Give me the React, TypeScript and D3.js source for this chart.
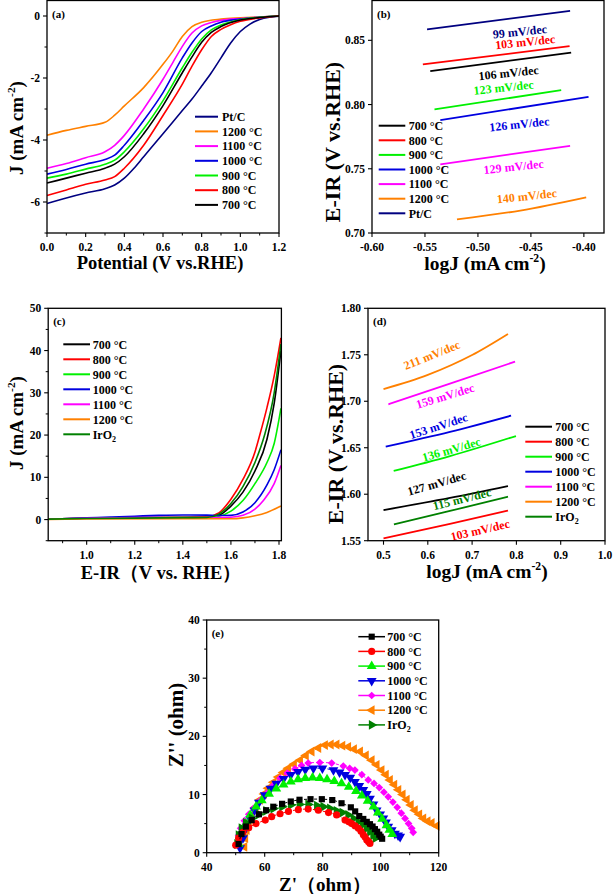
import React from "react";
import * as d3 from "d3";

const FONT = "'Liberation Serif','Times New Roman',Times,serif";
type Pt = [number, number];

// ---------------- (a) ORR polarization curves ----------------
const aNames = ["Pt/C", "1200 °C", "1100 °C", "1000 °C", "900 °C", "800 °C", "700 °C"];
const aColors = ["#000080", "#FF8000", "#FF00FF", "#0000E0", "#00F000", "#FF0000", "#000000"];
const aPtC: Pt[] = [[0, -6.05], [0.1, -5.87], [0.2, -5.71], [0.3, -5.57], [0.35, -5.45], [0.4, -5.23], [0.45, -4.91], [0.5, -4.54], [0.6, -3.8], [0.7, -3.05], [0.75, -2.68], [0.8, -2.26], [0.85, -1.83], [0.9, -1.35], [0.95, -0.87], [1.0, -0.5], [1.05, -0.26], [1.1, -0.11], [1.15, -0.04], [1.2, -0.01]];
const a1200: Pt[] = [[0, -3.85], [0.1, -3.69], [0.2, -3.56], [0.3, -3.43], [0.35, -3.2], [0.4, -2.9], [0.5, -2.31], [0.6, -1.56], [0.65, -1.14], [0.7, -0.66], [0.75, -0.34], [0.8, -0.2], [0.9, -0.1], [1.0, -0.06], [1.1, -0.03], [1.2, 0]];
const a1100: Pt[] = [[0, -4.91], [0.1, -4.76], [0.2, -4.57], [0.3, -4.38], [0.35, -4.17], [0.4, -3.85], [0.5, -3.0], [0.6, -2.04], [0.65, -1.51], [0.7, -0.98], [0.75, -0.55], [0.8, -0.32], [0.85, -0.21], [0.9, -0.14], [1.0, -0.08], [1.1, -0.03], [1.2, 0]];
const a1000: Pt[] = [[0, -5.1], [0.1, -4.95], [0.2, -4.78], [0.3, -4.63], [0.35, -4.49], [0.4, -4.17], [0.5, -3.37], [0.6, -2.47], [0.7, -1.35], [0.75, -0.87], [0.8, -0.5], [0.85, -0.32], [0.9, -0.2], [1.0, -0.1], [1.1, -0.04], [1.2, 0]];
const a900: Pt[] = [[0, -5.23], [0.1, -5.1], [0.2, -4.94], [0.3, -4.78], [0.35, -4.65], [0.4, -4.38], [0.5, -3.64], [0.6, -2.73], [0.7, -1.67], [0.75, -1.17], [0.8, -0.74], [0.85, -0.45], [0.9, -0.29], [1.0, -0.12], [1.1, -0.04], [1.2, 0]];
const a800: Pt[] = [[0, -5.79], [0.1, -5.61], [0.2, -5.43], [0.3, -5.29], [0.35, -5.18], [0.4, -4.91], [0.5, -4.17], [0.6, -3.21], [0.7, -2.2], [0.75, -1.62], [0.8, -1.09], [0.85, -0.66], [0.9, -0.43], [0.95, -0.28], [1.0, -0.17], [1.1, -0.06], [1.2, 0]];
const a700: Pt[] = [[0, -5.39], [0.1, -5.23], [0.2, -5.07], [0.3, -4.91], [0.35, -4.78], [0.4, -4.54], [0.5, -3.8], [0.6, -2.89], [0.7, -1.83], [0.75, -1.32], [0.8, -0.85], [0.85, -0.53], [0.9, -0.34], [1.0, -0.13], [1.1, -0.05], [1.2, 0]];
const aCurves = [aPtC, a1200, a1100, a1000, a900, a800, a700];
const aXTicks = [0, 0.2, 0.4, 0.6, 0.8, 1.0, 1.2];
const aXMinor = [0.1, 0.3, 0.5, 0.7, 0.9, 1.1];
const aYTicks = [0, -2, -4, -6];
const aYMinor = [-1, -3, -5, -7];

// ---------------- (b) ORR Tafel ----------------
const bNames = ["700 °C", "800 °C", "900 °C", "1000 °C", "1100 °C", "1200 °C", "Pt/C"];
const bColors = ["#000000", "#FF0000", "#00F000", "#0000E0", "#FF00FF", "#FF8000", "#000080"];
const b700: Pt[] = [[-0.545, 0.826], [-0.412, 0.8405]];
const b800: Pt[] = [[-0.552, 0.8312], [-0.4135, 0.8454]];
const b900: Pt[] = [[-0.541, 0.7962], [-0.4214, 0.8112]];
const b1000: Pt[] = [[-0.5355, 0.7879], [-0.3956, 0.806]];
const b1100: Pt[] = [[-0.5355, 0.7534], [-0.413, 0.7679]];
const b1200: Pt[] = [[-0.5198, 0.7106], [-0.46, 0.7175], [-0.3978, 0.7278]];
const bPtC: Pt[] = [[-0.548, 0.8586], [-0.413, 0.8729]];
const bLines = [b700, b800, b900, b1000, b1100, b1200, bPtC];
const bSlopes = ["106 mV/dec", "103 mV/dec", "123 mV/dec", "126 mV/dec", "129 mV/dec", "140 mV/dec", "99 mV/dec"];
const bSlopeX = [-0.471, -0.4554, -0.4758, -0.461, -0.4663, -0.4538, -0.4604];
const bSlopeY = [0.8247, 0.8488, 0.8133, 0.7848, 0.7516, 0.7288, 0.8568];
const bXTicks = [-0.6, -0.55, -0.5, -0.45, -0.4];
const bYTicks = [0.7, 0.75, 0.8, 0.85];

// ---------------- (c) OER polarization ----------------
const cNames = ["700 °C", "800 °C", "900 °C", "1000 °C", "1100 °C", "1200 °C", "IrO2"];
const cColors = ["#000000", "#FF0000", "#00F000", "#0000E0", "#FF00FF", "#FF8000", "#008000"];
const c700: Pt[] = [[0.842, 0.1], [1.0, 0.3], [1.2, 0.45], [1.4, 0.5], [1.5, 0.55], [1.55, 1.0], [1.6, 3.2], [1.65, 6.5], [1.7, 11.5], [1.75, 19], [1.78, 27.5], [1.808, 40]];
const c800: Pt[] = [[0.842, 0.1], [1.0, 0.3], [1.2, 0.45], [1.4, 0.55], [1.5, 0.7], [1.55, 1.6], [1.6, 4.8], [1.65, 9.5], [1.7, 16], [1.72, 20], [1.75, 26.5], [1.78, 34], [1.808, 43]];
const c900: Pt[] = [[0.842, 0.1], [1.0, 0.3], [1.2, 0.4], [1.4, 0.5], [1.5, 0.5], [1.55, 0.8], [1.6, 2.0], [1.65, 4.5], [1.7, 8.5], [1.75, 13.5], [1.78, 18], [1.808, 26.3]];
const c1000: Pt[] = [[0.842, 0.1], [1.0, 0.4], [1.1, 0.6], [1.2, 0.8], [1.3, 1.0], [1.4, 1.1], [1.5, 1.05], [1.55, 0.95], [1.6, 1.0], [1.65, 1.8], [1.7, 4.0], [1.75, 8.2], [1.78, 11.8], [1.808, 16.5]];
const c1100: Pt[] = [[0.842, 0.1], [1.0, 0.3], [1.2, 0.45], [1.4, 0.5], [1.55, 0.5], [1.6, 0.55], [1.65, 1.0], [1.7, 2.5], [1.736, 4.6], [1.78, 8.5], [1.808, 12.8]];
const c1200: Pt[] = [[0.842, 0.05], [1.0, 0.15], [1.4, 0.2], [1.6, 0.2], [1.65, 0.4], [1.7, 0.9], [1.75, 1.7], [1.808, 3.2]];
const cIr: Pt[] = [[0.842, 0.1], [1.0, 0.25], [1.2, 0.35], [1.4, 0.45], [1.5, 0.5], [1.55, 1.3], [1.6, 3.8], [1.65, 7.8], [1.7, 13.5], [1.74, 20], [1.78, 30], [1.808, 41.5]];
const cCurves = [c700, c800, c900, c1000, c1100, c1200, cIr];
const cXTicks = [1.0, 1.2, 1.4, 1.6, 1.8];
const cXMinor = [0.9, 1.1, 1.3, 1.5, 1.7];
const cYTicks = [0, 10, 20, 30, 40, 50];
const cYMinor = [-5, 5, 15, 25, 35, 45];

// ---------------- (d) OER Tafel ----------------
const d700: Pt[] = [[0.5, 1.583], [0.65, 1.596], [0.781, 1.6088]];
const d800: Pt[] = [[0.5, 1.5526], [0.65, 1.568], [0.781, 1.5823]];
const d900: Pt[] = [[0.523, 1.625], [0.65, 1.641], [0.799, 1.6626]];
const d1000: Pt[] = [[0.505, 1.6511], [0.65, 1.667], [0.788, 1.6845]];
const d1100: Pt[] = [[0.511, 1.6967], [0.65, 1.719], [0.797, 1.7426]];
const d1200: Pt[] = [[0.5, 1.713], [0.6, 1.7283], [0.7, 1.7497], [0.781, 1.7724]];
const dIr: Pt[] = [[0.5235, 1.5676], [0.65, 1.582], [0.781, 1.5973]];
const dLines = [d700, d800, d900, d1000, d1100, d1200, dIr];
const dSlopes = ["127 mV/dec", "103 mV/dec", "136 mV/dec", "153 mV/dec", "159 mV/dec", "211 mV/dec", "115 mV/dec"];
const dSlopeX = [0.62, 0.718, 0.653, 0.624, 0.639, 0.609, 0.677];
const dSlopeY = [1.6117, 1.5615, 1.6483, 1.6734, 1.7057, 1.7498, 1.5949];
const dSlopeAngle = [-16, -13, -16, -18, -17, -22, -14];
const dXTicks = [0.5, 0.6, 0.7, 0.8, 0.9, 1.0];
const dYTicks = [1.55, 1.6, 1.65, 1.7, 1.75, 1.8];

// ---------------- (e) Nyquist ----------------
const eShapes = ["square", "circle", "up", "down", "diamond", "left", "right"];
const e700: Pt[] = [[51, 1.5], [52, 3.2], [53.5, 4.5], [55.5, 5.6], [58, 6.6], [60.5, 7.3], [63, 7.9], [66, 8.4], [69, 8.8], [72, 9.1], [75.8, 9.2], [79.7, 9.2], [83.3, 9.05], [86.5, 8.5], [89.7, 7.8], [91.2, 7.1], [92.6, 6.3], [94, 5.8], [95.2, 5.3], [96.3, 4.9], [97.2, 4.5], [98, 4.05], [98.8, 3.6], [99.5, 3.1], [100, 2.75], [100.5, 2.4]];
const e800: Pt[] = [[50, 1.3], [51, 2.5], [52.5, 3.5], [54.5, 4.3], [57, 5.0], [60.2, 5.6], [62.4, 6.2], [65.3, 6.7], [68.2, 7.1], [71.6, 7.4], [75, 7.5], [78.5, 7.3], [82, 6.9], [84.8, 6.5], [87.7, 5.6], [89, 5.3], [90, 5.0], [91.2, 4.6], [92.3, 4.2], [93.2, 3.7], [94, 3.1], [94.6, 2.7], [95.2, 2.2], [95.8, 1.9], [96.3, 1.6]];
const e900: Pt[] = [[51, 1.5], [52, 3.5], [53.5, 5], [55, 6.5], [57, 7.9], [59, 9.0], [61.5, 10.1], [64, 11.0], [66.5, 11.7], [69, 12.2], [71.5, 12.6], [74, 12.8], [76.5, 12.9], [79, 12.8], [81.5, 12.6], [84, 12.3], [86.5, 11.9], [89, 11.3], [91.5, 10.6], [93.5, 9.8], [95.5, 8.9], [97.5, 7.9], [99, 6.9], [100.5, 5.8], [102, 4.7], [103, 3.9], [104, 3.2]];
const e1000: Pt[] = [[51.5, 0.8], [52.5, 2.5], [53.5, 4.2], [55, 5.8], [56.5, 7.3], [58, 8.6], [60, 9.9], [62, 11], [64, 11.9], [66.5, 12.7], [69, 13.4], [71.5, 13.9], [74, 14.3], [76.8, 14.5], [79.9, 14.5], [83.7, 14.2], [85.8, 13.8], [87.7, 13.4], [89.5, 12.9], [91.1, 12.2], [92.6, 11.5], [94, 10.8], [95.2, 10.1], [96.3, 9.3], [97.5, 8.3], [98.6, 7.3], [99.8, 6.6], [100.9, 5.9], [101.8, 5.2], [102.6, 4.5], [103.8, 3.9], [104.9, 3.3], [106, 3.0], [106.7, 2.75]];
const e1100: Pt[] = [[50.5, 1.5], [51, 3], [51.7, 4.2], [53, 5.5], [54.5, 6.6], [56.1, 7.6], [58.3, 8.9], [60.7, 10.2], [63, 11.6], [65.3, 12.8], [67.8, 13.7], [70.4, 14.4], [72.7, 15], [75, 15.4], [79, 15.5], [83.1, 15.4], [87.1, 14.9], [89.3, 14.5], [91.1, 14.2], [93.5, 13.4], [95.7, 12.5], [97.7, 11.9], [99.5, 11.2], [101.1, 10.4], [102.6, 9.6], [104.2, 8.7], [105.7, 7.8], [107.1, 6.8], [108.4, 5.9], [109.6, 5], [110.7, 4.2], [111.2, 3.5]];
const e1200: Pt[] = [[53, 1], [53.3, 2.5], [53.8, 3.9], [54.6, 5.2], [55.5, 6.5], [56.9, 7.8], [58.4, 9.1], [59.8, 10.1], [61.2, 11.1], [63, 12.1], [64.7, 13], [66.4, 13.8], [68.1, 14.5], [70.1, 15.2], [72.2, 15.9], [74.2, 16.7], [76.2, 17.4], [78.5, 18], [80.8, 18.5], [82.8, 18.6], [84.8, 18.6], [86.8, 18.4], [88.8, 18.2], [90.8, 17.8], [92.9, 17.4], [94.9, 16.7], [96.9, 15.9], [98.6, 15.1], [100.3, 14.2], [101.8, 13.4], [103.2, 12.5], [104.7, 11.7], [106.1, 10.8], [107.6, 10], [109, 9.1], [110.4, 8.2], [111.8, 7.3], [113.3, 6.6], [114.7, 5.9], [116.2, 5.4], [117.6, 5.1], [119.3, 4.6]];
const eIr: Pt[] = [[50.5, 1.5], [51, 3], [52, 4.2], [53.5, 5.1], [55.5, 5.9], [58, 6.6], [60.5, 7.2], [63, 7.6], [66, 7.9], [69, 8.2], [72, 8.3], [75, 8.3], [78, 8.1], [80.2, 7.9], [82.5, 7.6], [84.8, 7.2], [86.8, 6.9], [88.8, 6.5], [90.6, 5.9], [92.3, 5.3], [93.8, 4.8], [95.2, 4.2], [96.3, 3.6], [97.4, 3.0], [98.2, 2.5]];
const eSeries = [e700, e800, e900, e1000, e1100, e1200, eIr];
const eXTicks = [40, 60, 80, 100, 120];
const eXMinor = [50, 70, 90, 110];
const eYTicks = [0, 10, 20, 30, 40];
const eYMinor = [5, 15, 25, 35];

type Scale = d3.ScaleLinear<number, number>;

function Frame(p: { x: Scale; y: Scale; xTicks: number[]; yTicks: number[]; xMinor?: number[]; yMinor?: number[]; xFmt: (v: number) => string; yFmt: (v: number) => string; tag: string }) {
  const [xa, xb] = p.x.range();
  const [ya, yb] = p.y.range();
  return (
    <g fontFamily={FONT} fontWeight="bold" fill="#000">
      <rect x={xa} y={yb} width={xb - xa} height={ya - yb} fill="none" stroke="#000" strokeWidth={1.3} />
      {p.xTicks.map((t) => (
        <line key={"xt" + t} x1={p.x(t)} x2={p.x(t)} y1={ya} y2={ya + 4} stroke="#000" strokeWidth={1.1} />
      ))}
      {(p.xMinor || []).map((t) => (
        <line key={"xm" + t} x1={p.x(t)} x2={p.x(t)} y1={ya} y2={ya + 2.5} stroke="#000" strokeWidth={1} />
      ))}
      {p.xTicks.map((t) => (
        <text key={"xl" + t} x={p.x(t)} y={ya + 18} fontSize={11.5} textAnchor="middle">{p.xFmt(t)}</text>
      ))}
      {p.yTicks.map((t) => (
        <line key={"yt" + t} x1={xa - 4} x2={xa} y1={p.y(t)} y2={p.y(t)} stroke="#000" strokeWidth={1.1} />
      ))}
      {(p.yMinor || []).map((t) => (
        <line key={"ym" + t} x1={xa - 2.5} x2={xa} y1={p.y(t)} y2={p.y(t)} stroke="#000" strokeWidth={1} />
      ))}
      {p.yTicks.map((t) => (
        <text key={"yl" + t} x={xa - 7} y={p.y(t)} dy="0.35em" fontSize={11.5} textAnchor="end">{p.yFmt(t)}</text>
      ))}
      <text x={xa + 5} y={yb + 17} fontSize={11}>{p.tag}</text>
    </g>
  );
}

function LineLegend(p: { names: React.ReactNode[]; colors: string[]; x0: number; x1: number; tx: number; y0: number; dy: number }) {
  return (
    <g fontFamily={FONT} fontWeight="bold" fontSize={12}>
      {p.names.map((n, i) => (
        <g key={i}>
          <line x1={p.x0} x2={p.x1} y1={p.y0 + i * p.dy} y2={p.y0 + i * p.dy} stroke={p.colors[i]} strokeWidth={2} />
          <text x={p.tx} y={p.y0 + i * p.dy} dy="0.35em" fill="#000">{n}</text>
        </g>
      ))}
    </g>
  );
}

const IrO2 = (
  <>
    IrO<tspan fontSize={8} dy={3}>2</tspan>
  </>
);

function Marker({ shape, x, y, color }: { shape: string; x: number; y: number; color: string }) {
  let sym: d3.SymbolType = d3.symbolSquare;
  let size = 38;
  let rot = 0;
  if (shape === "circle") { sym = d3.symbolCircle; size = 40; }
  if (shape === "up") { sym = d3.symbolTriangle; size = 42; }
  if (shape === "down") { sym = d3.symbolTriangle; size = 42; rot = 180; }
  if (shape === "left") { sym = d3.symbolTriangle; size = 42; rot = -90; }
  if (shape === "right") { sym = d3.symbolTriangle; size = 42; rot = 90; }
  if (shape === "diamond") { sym = d3.symbolSquare; size = 30; rot = 45; }
  const path = d3.symbol().type(sym).size(size)() || "";
  return <path d={path} transform={`translate(${x},${y}) rotate(${rot})`} fill={color} />;
}

function YTitle({ x, y, size, children }: { x: number; y: number; size: number; children: React.ReactNode }) {
  return (
    <text transform={`translate(${x},${y}) rotate(-90)`} textAnchor="middle" fontFamily={FONT} fontWeight="bold" fontSize={size}>
      {children}
    </text>
  );
}

function XTitle({ x, y, size, children }: { x: number; y: number; size: number; children: React.ReactNode }) {
  return (
    <text x={x} y={y} textAnchor="middle" fontFamily={FONT} fontWeight="bold" fontSize={size}>
      {children}
    </text>
  );
}

const cm2 = (size: number) => (
  <>
    cm<tspan fontSize={size * 0.6} dy={-size * 0.42}>-2</tspan>
    <tspan dy={size * 0.42}>)</tspan>
  </>
);

export default function App() {
  const f1 = (v: number) => v.toFixed(1);
  const f2 = (v: number) => v.toFixed(2);
  const f0 = (v: number) => String(Math.round(v));

  const ax = d3.scaleLinear().domain([0, 1.2]).range([47, 279]);
  const ay = d3.scaleLinear().domain([-7, 0.5]).range([233, 0.5]);
  const bx = d3.scaleLinear().domain([-0.6, -0.381]).range([372, 604]);
  const by = d3.scaleLinear().domain([0.7, 0.881]).range([233, 0.5]);
  const cx = d3.scaleLinear().domain([0.84, 1.81]).range([48.2, 281.4]);
  const cy = d3.scaleLinear().domain([-5, 50]).range([540.7, 308.3]);
  const dx = d3.scaleLinear().domain([0.465, 1.0]).range([368, 605]);
  const dy = d3.scaleLinear().domain([1.55, 1.8]).range([540.7, 308.3]);
  const ex = d3.scaleLinear().domain([40, 120]).range([206.7, 438.7]);
  const ey = d3.scaleLinear().domain([0, 40]).range([852.7, 620]);

  const lineA = d3.line<Pt>().x((d) => ax(d[0])).y((d) => ay(d[1])).curve(d3.curveMonotoneX);
  const lineB = d3.line<Pt>().x((d) => bx(d[0])).y((d) => by(d[1])).curve(d3.curveMonotoneX);
  const lineC = d3.line<Pt>().x((d) => cx(d[0])).y((d) => cy(d[1])).curve(d3.curveMonotoneX);
  const lineD = d3.line<Pt>().x((d) => dx(d[0])).y((d) => dy(d[1])).curve(d3.curveMonotoneX);
  const lineE = d3.line<Pt>().x((d) => ex(d[0])).y((d) => ey(d[1])).curve(d3.curveCatmullRom);

  const eDrawOrder = [5, 4, 3, 2, 6, 1, 0];
  const eColors = cColors;
  const eNames: React.ReactNode[] = cNames.map((n) => (n === "IrO2" ? IrO2 : n));

  return (
    <svg width={614} height={894} style={{ position: "absolute", left: 0, top: 0, background: "#fff" }}>
      <rect x={0} y={0} width={614} height={894} fill="#fff" />

      {/* (a) */}
      <g>
        {aCurves.map((c, i) => (
          <path key={i} d={lineA(c) || ""} fill="none" stroke={aColors[i]} strokeWidth={1.6} />
        ))}
        <Frame x={ax} y={ay} xTicks={aXTicks} yTicks={aYTicks} xMinor={aXMinor} yMinor={aYMinor} xFmt={f1} yFmt={f0} tag="(a)" />
        <LineLegend names={aNames} colors={aColors} x0={195} x1={218} tx={222} y0={116.7} dy={14.7} />
        <YTitle x={23} y={128} size={19}>J (mA {cm2(19)}</YTitle>
        <XTitle x={160} y={269} size={18.5}>Potential (V vs.RHE)</XTitle>
      </g>

      {/* (b) */}
      <g>
        {bLines.map((c, i) => (
          <path key={i} d={lineB(c) || ""} fill="none" stroke={bColors[i]} strokeWidth={1.8} />
        ))}
        {bSlopes.map((s, i) => (
          <text key={i} transform={`translate(${bx(bSlopeX[i])},${by(bSlopeY[i])}) rotate(-6)`} textAnchor="middle" dy="0.35em" fontFamily={FONT} fontWeight="bold" fontSize={12} fill={bColors[i]}>{s}</text>
        ))}
        <Frame x={bx} y={by} xTicks={bXTicks} yTicks={bYTicks} xFmt={f2} yFmt={f2} tag="(b)" />
        <LineLegend names={bNames} colors={bColors} x0={378.7} x1={405.3} tx={408.7} y0={125.7} dy={14.6} />
        <YTitle x={340} y={142} size={22}>E-IR (V vs.RHE)</YTitle>
        <XTitle x={485} y={270} size={19.5}>logJ (mA {cm2(19.5)}</XTitle>
      </g>

      {/* (c) */}
      <g>
        {cCurves.map((c, i) => (
          <path key={i} d={lineC(c) || ""} fill="none" stroke={cColors[i]} strokeWidth={1.6} />
        ))}
        <Frame x={cx} y={cy} xTicks={cXTicks} yTicks={cYTicks} xMinor={cXMinor} yMinor={cYMinor} xFmt={f1} yFmt={f0} tag="(c)" />
        <LineLegend names={eNames} colors={cColors} x0={63.3} x1={90} tx={92.7} y0={344.3} dy={15} />
        <YTitle x={23} y={423} size={19}>J (mA {cm2(19)}</YTitle>
        <XTitle x={161} y={579} size={18.5}>E-IR（V vs. RHE）</XTitle>
      </g>

      {/* (d) */}
      <g>
        {dLines.map((c, i) => (
          <path key={i} d={lineD(c) || ""} fill="none" stroke={cColors[i]} strokeWidth={1.8} />
        ))}
        {dSlopes.map((s, i) => (
          <text key={i} transform={`translate(${dx(dSlopeX[i])},${dy(dSlopeY[i])}) rotate(${dSlopeAngle[i]})`} textAnchor="middle" dy="0.35em" fontFamily={FONT} fontWeight="bold" fontSize={12} fill={cColors[i]}>{s}</text>
        ))}
        <Frame x={dx} y={dy} xTicks={dXTicks} yTicks={dYTicks} xFmt={f1} yFmt={f2} tag="(d)" />
        <LineLegend names={eNames} colors={cColors} x0={525.3} x1={552} tx={555.3} y0={426.7} dy={15} />
        <YTitle x={343} y={444} size={22}>E-IR (V vs.RHE)</YTitle>
        <XTitle x={487} y={578} size={19.5}>logJ (mA {cm2(19.5)}</XTitle>
      </g>

      {/* (e) */}
      <g>
        {eDrawOrder.map((i) => (
          <g key={i}>
            <path d={lineE(eSeries[i]) || ""} fill="none" stroke={eColors[i]} strokeWidth={1} strokeDasharray="3,2" />
            {eSeries[i].map((d, j) => (
              <Marker key={j} shape={eShapes[i]} x={ex(d[0])} y={ey(d[1])} color={eColors[i]} />
            ))}
          </g>
        ))}
        <Frame x={ex} y={ey} xTicks={eXTicks} yTicks={eYTicks} xMinor={eXMinor} yMinor={eYMinor} xFmt={f0} yFmt={f0} tag="(e)" />
        <g fontFamily={FONT} fontWeight="bold" fontSize={12}>
          {eNames.map((n, i) => {
            const yy = 636.7 + i * 14.7;
            return (
              <g key={i}>
                <line x1={358.3} x2={385} y1={yy} y2={yy} stroke={eColors[i]} strokeWidth={1.5} />
                <Marker shape={eShapes[i]} x={371.7} y={yy} color={eColors[i]} />
                <text x={387.3} y={yy} dy="0.35em">{n}</text>
              </g>
            );
          })}
        </g>
        <YTitle x={183} y={725} size={21}>Z'' (ohm)</YTitle>
        <XTitle x={325} y={891} size={19}>Z'（ohm）</XTitle>
      </g>
    </svg>
  );
}
